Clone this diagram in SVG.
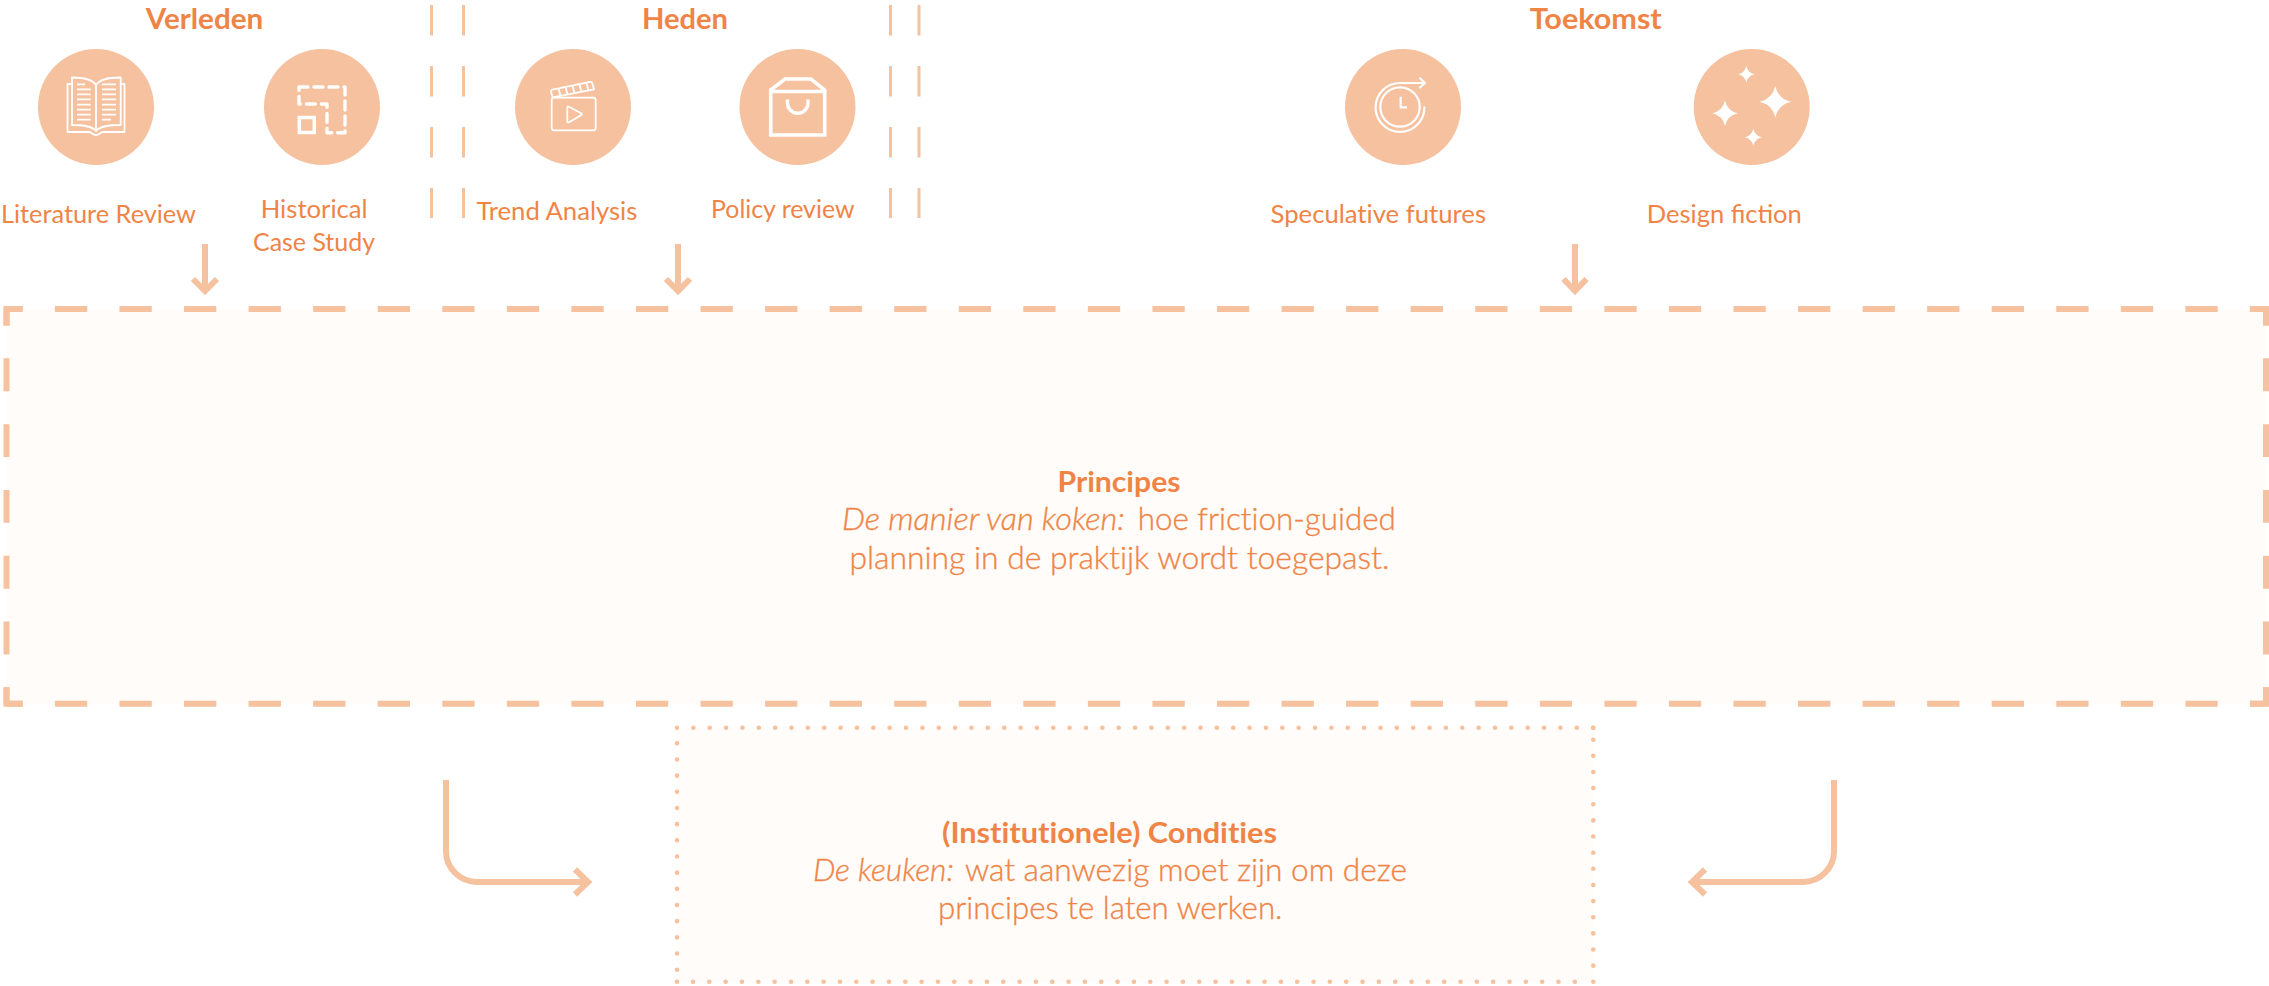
<svg xmlns="http://www.w3.org/2000/svg" xmlns:xlink="http://www.w3.org/1999/xlink" width="2269" height="986" viewBox="0 0 2269 986">
<style>
text{font-family:Lato,"Liberation Sans",sans-serif;fill:#EF8446;font-variant-ligatures:none}
.h{font-weight:700;font-size:29px}
.l{font-size:25.5px;font-weight:400}
.b{font-size:31.5px;font-weight:300;stroke:#EF8446;stroke-width:.35}
.i{font-style:italic}
.c{fill:#F5C19E}
.w{fill:none;stroke:#fff;stroke-width:1.8;stroke-linejoin:round}
.ln{fill:none;stroke:#F5C19E;stroke-width:6}
.dv{stroke:#F5C19E;stroke-width:3;stroke-dasharray:30.5 30.5;fill:none}
.dash{stroke:#F5C19E;stroke-width:6;fill:none}
.dot{stroke:#F5C19E;stroke-width:4.6;fill:none;stroke-linecap:round}
.box{fill:#FFFCF9}
</style>
<defs>
<path id="star" d="M0,-1Q.18,-.18 1,0Q.18,.18 0,1Q-.18,.18 -1,0Q-.18,-.18 0,-1Z" fill="#fff"/>
</defs>
<g id="dividers">
<path class="dv" d="M431.5,5V218M463.5,5V218M890.5,5V218M919,5V218"/>
</g>
<g id="principes">
<rect class="box" x="6.5" y="309" width="2259.5" height="394.7"/>
<path class="dash" stroke-dasharray="32.28 32.28" stroke-dashoffset="-48.42" d="M6.5,309H2266M6.5,703.7H2266"/>
<path class="dash" stroke-dasharray="32.9 32.9" stroke-dashoffset="-49.35" d="M6.5,309V703.7M2266,309V703.7"/>
<path class="dash" d="M6.5,325.5V309H22.6M2249.9,309H2266V325.5M2266,687.2V703.7H2249.9M22.6,703.7H6.5V687.2"/>
<text class="h" x="1057.5" y="491.7" textLength="123" lengthAdjust="spacingAndGlyphs">Principes</text>
<text class="b" y="530"><tspan class="i" x="842" textLength="283" lengthAdjust="spacingAndGlyphs">De manier van koken:</tspan><tspan x="1137.8" textLength="258" lengthAdjust="spacingAndGlyphs">hoe friction-guided</tspan></text>
<text class="b" x="849.4" y="569.3" textLength="540" lengthAdjust="spacingAndGlyphs">planning in de praktijk wordt toegepast.</text>
</g>
<g id="condities">
<rect class="box" x="677" y="727.7" width="916.3" height="254"/>
<path class="dot" stroke-dasharray="0 16.36" d="M677,727.7H1594"/>
<path class="dot" stroke-dasharray="0 16.14" d="M1593.3,739.7V982"/>
<path class="dot" stroke-dasharray="0 16.17" d="M677,743.3V970"/>
<path class="dot" stroke-dasharray="0 16.33" d="M693,981.7H1576"/>
<path class="dot" d="M677,981.7h.01M1593.3,727.7h.01"/>
<text class="h" x="942" y="842.7" textLength="335" lengthAdjust="spacingAndGlyphs">(Institutionele) Condities</text>
<text class="b" y="881"><tspan class="i" x="812.9" textLength="141" lengthAdjust="spacingAndGlyphs">De keuken:</tspan><tspan x="965" textLength="442" lengthAdjust="spacingAndGlyphs">wat aanwezig moet zijn om deze</tspan></text>
<text class="b" x="937.9" y="919.3" textLength="344.5" lengthAdjust="spacingAndGlyphs">principes te laten werken.</text>
</g>
<g id="connectors">
<path class="ln" d="M205,244V291M193,279L205,291L217,279"/>
<path class="ln" d="M678,244V291M666,279L678,291L690,279"/>
<path class="ln" d="M1575,244V291M1563.5,279L1575,291L1586.5,279"/>
<path class="ln" d="M446,780V851A31,31 0 0 0 477,882H587M575,869.5L588,882L575,894.5"/>
<path class="ln" d="M1834,780V851A31,31 0 0 1 1803,882H1693M1705,869.5L1692,882L1705,894.5"/>
</g>
<g id="verleden"><text class="h" x="145.7" y="28.7" textLength="117.5" lengthAdjust="spacingAndGlyphs">Verleden</text></g>
<g id="heden"><text class="h" x="642" y="28.7" textLength="86" lengthAdjust="spacingAndGlyphs">Heden</text></g>
<g id="toekomst"><text class="h" x="1529.7" y="28.7" textLength="132" lengthAdjust="spacingAndGlyphs">Toekomst</text></g>
<g id="literature-review">
<circle class="c" cx="96" cy="107" r="58"/>
<path class="w" d="M96,85C92,79 84,77.5 72,77.5V125C84,125 92,126 96,131C100,126 108,125 120.7,125V77.5C108,77.5 100,79 96,85ZM96,85V131M72,84H67.5V132H89C91,132 93,135 96,135C99,135 101,132 103,132H124.5V84H120.7"/>
<path class="w" d="M77,84.3H85M77,89.3H90.7M77,94.3H90.7M77,99.3H90.7M77,104.7H90.7M77,109.7H90.7M77,114.7H90.7M77,119.7H90.7M102,84.3H116M102,89.3H116M102,94.3H116M102,99.3H116M102,104.7H116M102,109.7H116M102,114.7H116M102,119.7H111"/>
<text class="l" x="1" y="222.7" textLength="195" lengthAdjust="spacingAndGlyphs">Literature Review</text>
</g>
<g id="historical-case-study">
<circle class="c" cx="322" cy="107" r="58"/>
<rect x="299.3" y="117.5" width="15" height="15" fill="none" stroke="#fff" stroke-width="3.5"/>
<path fill="none" stroke="#fff" stroke-width="3.4" stroke-linecap="round" stroke-linejoin="round" stroke-dasharray="9 6" d="M299,87H345V132.7H327V104H299Z"/>
<text class="l" x="260.7" y="218.3" textLength="107" lengthAdjust="spacingAndGlyphs">Historical</text>
<text class="l" x="253" y="250.7" textLength="122" lengthAdjust="spacingAndGlyphs">Case Study</text>
</g>
<g id="trend-analysis">
<circle class="c" cx="573" cy="107" r="58"/>
<rect class="w" x="551.7" y="97.7" width="44" height="32.6" rx="2.5"/>
<path class="w" d="M552.7,97.3L551,92Q550.5,90 552.5,89.6L590,81.9Q591.7,81.6 592.2,83L594,89.3ZM558.5,88.5L560.5,96M565.5,87L567.5,94.7M572.5,85.6L574.5,93.3M579.5,84.2L581.5,91.9M586.5,82.7L588.5,90.5"/>
<path class="w" d="M567.3,108Q567.3,105.7 569.5,107L581,113.2Q582.5,114.3 581,115.3L569.5,122Q567.3,123.2 567.3,121Z"/>
<text class="l" x="476.4" y="220" textLength="161" lengthAdjust="spacingAndGlyphs">Trend Analysis</text>
</g>
<g id="policy-review">
<circle class="c" cx="797.5" cy="107" r="58"/>
<path fill="none" stroke="#fff" stroke-width="3.6" d="M770.7,135V90L785,79H811L824.7,90V135ZM770.7,91.5H824.7"/>
<path fill="none" stroke="#fff" stroke-width="3.4" d="M787.5,99.5V103A10.2,10.2 0 0 0 808,103V99.5"/>
<text class="l" x="711" y="218.3" textLength="143.5" lengthAdjust="spacingAndGlyphs">Policy review</text>
</g>
<g id="speculative-futures">
<circle class="c" cx="1403" cy="107" r="58"/>
<circle cx="1400" cy="107" r="19.7" fill="none" stroke="#fff" stroke-width="2.2"/>
<path fill="none" stroke="#fff" stroke-width="2.2" stroke-linecap="round" stroke-linejoin="round" d="M1424,83H1400A24.4,24.4 0 1 0 1424.4,107.4M1420,78.3L1425,83L1420,87.5"/>
<path fill="none" stroke="#fff" stroke-width="2.2" d="M1400.7,96.7V107.3H1407"/>
<text class="l" x="1270.6" y="222.7" textLength="215.4" lengthAdjust="spacingAndGlyphs">Speculative futures</text>
</g>
<g id="design-fiction">
<circle class="c" cx="1751.7" cy="107" r="58"/>
<use xlink:href="#star" href="#star" transform="translate(1775.3,101.7) scale(15.7)"/>
<use xlink:href="#star" href="#star" transform="translate(1725,113.3) scale(12.7)"/>
<use xlink:href="#star" href="#star" transform="translate(1746.3,74.3) scale(8.4)"/>
<use xlink:href="#star" href="#star" transform="translate(1753.3,137.3) scale(8.5)"/>
<text class="l" x="1646.8" y="222.7" textLength="155" lengthAdjust="spacingAndGlyphs" style="font-variant-ligatures:common-ligatures">Design fiction</text>
</g>
</svg>
